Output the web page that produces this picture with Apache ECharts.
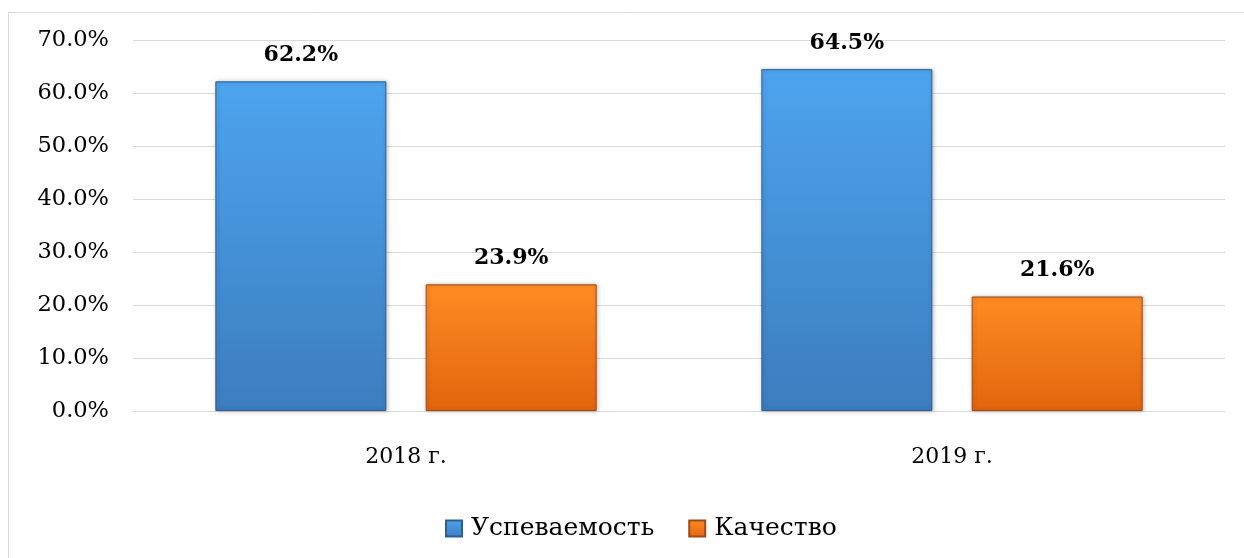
<!DOCTYPE html>
<html>
<head>
<meta charset="utf-8">
<script src="https://cdn.jsdelivr.net/npm/echarts@6/dist/echarts.min.js"></script>
<style>
    html, body { margin: 0; padding: 0; background: #fff; }
    #chart { width: 1244px; height: 558px; }
</style>
</head>
<body>
<div id="chart"></div>
<script>
var categories = ['2018 г.', '2019 г.'];
var seriesNames = ['Успеваемость', 'Качество'];
var uspevaemost = [62.2, 64.5];
var kachestvo = [23.9, 21.6];
var yTicks = [0, 10, 20, 30, 40, 50, 60, 70];

var fontFamily = '"DejaVu Serif", serif';

function barGradient(top, bottom) {
    return new echarts.graphic.LinearGradient(0, 0, 0, 1, [
        {offset: 0, color: top},
        {offset: 1, color: bottom}
    ]);
}

function pctLabel(p) {
    return p.value.toFixed(1) + '%';
}

var chart = echarts.init(document.getElementById('chart'));
var option = {
    animation: false,
    backgroundColor: '#fff',
    graphic: [{
        type: 'rect',
        shape: {x: 8.5, y: 12.5, width: 1260, height: 580},
        style: {fill: 'none', stroke: '#d9d9d9', lineWidth: 1},
        silent: true
    }],
    grid: {
        left: 133,
        right: 19,
        top: 40,
        bottom: 147
    },
    legend: {
        bottom: 12,
        left: 440,
        itemWidth: 16,
        itemHeight: 16,
        itemGap: 34,
        icon: 'rect',
        textStyle: {
            fontFamily: fontFamily,
            fontSize: 25,
            color: '#000',
            padding: [0, 0, 0, 4]
        },
        data: seriesNames
    },
    xAxis: {
        type: 'category',
        data: categories,
        axisLine: {lineStyle: {color: '#d9d9d9', width: 1}},
        axisTick: {show: false},
        axisLabel: {
            margin: 35,
            fontFamily: fontFamily,
            fontSize: 22,
            color: '#000'
        }
    },
    yAxis: {
        type: 'value',
        min: yTicks[0],
        max: yTicks[yTicks.length - 1],
        interval: 10,
        axisLine: {show: false},
        axisTick: {show: false},
        splitLine: {lineStyle: {color: '#d9d9d9', width: 1}},
        axisLabel: {
            margin: 24,
            fontFamily: fontFamily,
            fontSize: 22.5,
            color: '#000',
            formatter: function (v) {
                return v.toFixed(1) + '%';
            }
        }
    },
    series: [{
        name: seriesNames[0],
        type: 'bar',
        data: uspevaemost,
        barWidth: 171,
        barGap: '23%',
        itemStyle: {
            color: barGradient('#4da4ef', '#3c7dbf'),
            borderColor: '#2d5f92',
            borderWidth: 1,
            shadowColor: 'rgba(0,0,0,0.25)',
            shadowBlur: 4,
            shadowOffsetX: 1
        },
        label: {
            show: true,
            position: 'top',
            distance: 15,
            fontFamily: fontFamily,
            fontSize: 22,
            fontWeight: 'bold',
            color: '#000',
            formatter: pctLabel
        }
    }, {
        name: seriesNames[1],
        type: 'bar',
        data: kachestvo,
        barWidth: 171,
        itemStyle: {
            color: barGradient('#ff8b24', '#e3650c'),
            borderColor: '#9c4a16',
            borderWidth: 1,
            shadowColor: 'rgba(0,0,0,0.25)',
            shadowBlur: 4,
            shadowOffsetX: 1
        },
        label: {
            show: true,
            position: 'top',
            distance: 15,
            fontFamily: fontFamily,
            fontSize: 22,
            fontWeight: 'bold',
            color: '#000',
            formatter: pctLabel
        }
    }]
};
chart.setOption(option);
</script>
</body>
</html>
